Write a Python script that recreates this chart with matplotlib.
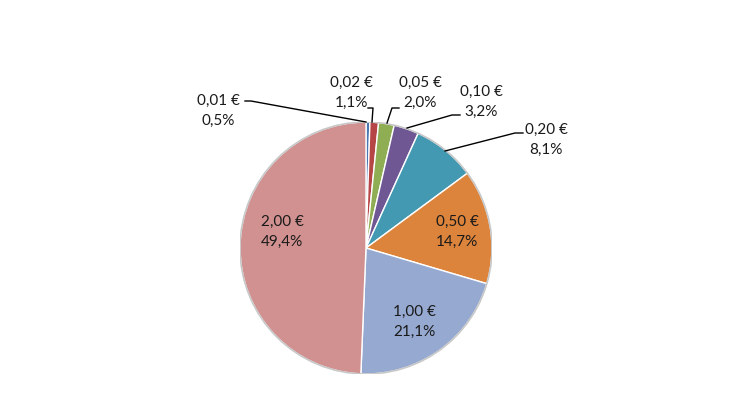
import matplotlib
matplotlib.use("Agg")
import matplotlib.pyplot as plt

# coin values and their share
coins = ["0,01 €", "0,02 €", "0,05 €", "0,10 €", "0,20 €", "0,50 €", "1,00 €", "2,00 €"]
shares = [0.5, 1.1, 2.0, 3.2, 8.1, 14.7, 21.1, 49.4]
pct_labels = ["0,5%", "1,1%", "2,0%", "3,2%", "8,1%", "14,7%", "21,1%", "49,4%"]
colors = ["#4A77B0", "#B54645", "#8FAE54", "#6F5794", "#4299B1", "#DD843C", "#95A9D1", "#D19190"]

W, H = 730, 410
CX, CY, R = 366, 249, 126


def to_data(px, py):
    return (px - CX) / R, (CY - py) / R


def main():
    plt.rcParams["font.family"] = ["Lato", "DejaVu Sans"]
    fig = plt.figure(figsize=(W / 100, H / 100), dpi=100)
    ax = fig.add_axes([(CX - R) / W, (H - CY - R) / H, 2 * R / W, 2 * R / H])

    wedges, _ = ax.pie(shares, colors=colors, startangle=90, counterclock=False,
                       radius=1, wedgeprops=dict(edgecolor="white", linewidth=1.0))
    # faint outer rim
    rim = plt.Circle((0, 0), 1.0, fill=False, edgecolor="#c8c8c8", linewidth=1.2)
    ax.add_patch(rim)
    ax.set_xlim(-1, 1)
    ax.set_ylim(-1, 1)
    ax.set_aspect("equal")
    ax.axis("off")

    fs = 11
    ls = 1.55
    # labels inside the big slices
    inside = {5: (457, 232), 6: (414, 322), 7: (282, 232)}
    for i, (px, py) in inside.items():
        x, y = to_data(px, py)
        ax.text(x, y, f"{coins[i]}\n{pct_labels[i]}", ha="center", va="center",
                fontsize=fs, linespacing=ls, color="#1a1a1a")

    # outside labels with leader lines: text centre, line points (pixels)
    outside = {
        0: ((218, 111), [(245, 102), (251, 102), (366, 123)]),
        1: ((351, 93), [(368, 109), (373, 109), (372, 123)]),
        2: ((420, 93), [(399, 109), (392, 109), (387, 124)]),
        3: ((481, 102), [(460, 116), (452, 116), (407, 129)]),
        4: ((546, 140), [(523, 134), (515, 134), (445, 152)]),
    }
    for i, ((px, py), pts) in outside.items():
        x, y = to_data(px, py)
        ax.text(x, y, f"{coins[i]}\n{pct_labels[i]}", ha="center", va="center",
                fontsize=fs, linespacing=ls, color="#1a1a1a")
        xs, ys = zip(*[to_data(a, b) for a, b in pts])
        ax.plot(xs, ys, color="black", linewidth=1.0, clip_on=False)

    fig.savefig("out.png", dpi=100, facecolor="white")


if __name__ == "__main__":
    main()
